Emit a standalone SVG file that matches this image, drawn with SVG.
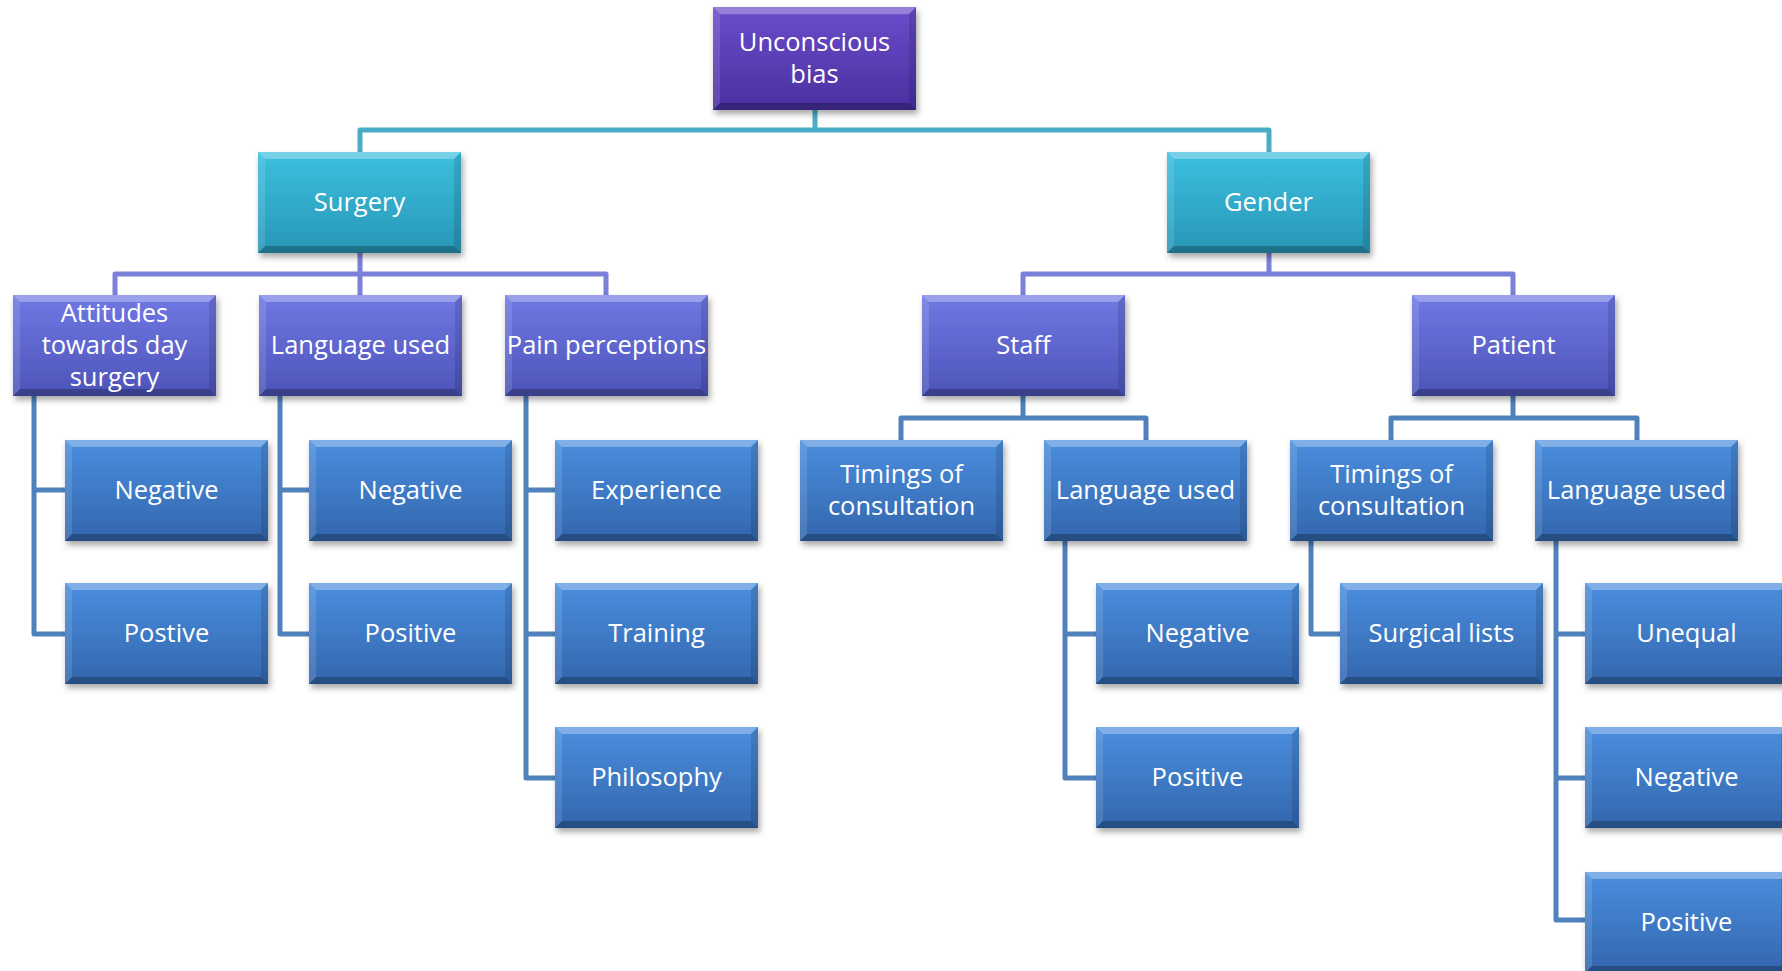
<svg xmlns="http://www.w3.org/2000/svg" xmlns:xlink="http://www.w3.org/1999/xlink" width="1782" height="971" viewBox="0 0 1782 971">
<style>
  .lbl { font-family: "Open Sans", "Liberation Sans", sans-serif; font-size: 25.5px; fill: #ffffff; text-anchor: middle; }
  .c0 { fill: none; stroke: #4bacc6; stroke-width: 5; stroke-linejoin: round; }
  .c1 { fill: none; stroke: #7b80d8; stroke-width: 5; stroke-linejoin: round; }
  .c2 { fill: none; stroke: #4f81bd; stroke-width: 5; stroke-linejoin: round; }
  .box { filter: url(#sh); }
</style>
<defs>
  <linearGradient id="gRoot" x1="0" y1="0" x2="0" y2="1">
    <stop offset="0" stop-color="#6a4ccb"/>
    <stop offset="1" stop-color="#4a30a0"/>
  </linearGradient>
  <linearGradient id="gTeal" x1="0" y1="0" x2="0" y2="1">
    <stop offset="0" stop-color="#3cc0e0"/>
    <stop offset="1" stop-color="#2896b6"/>
  </linearGradient>
  <linearGradient id="gPeri" x1="0" y1="0" x2="0" y2="1">
    <stop offset="0" stop-color="#7078e4"/>
    <stop offset="1" stop-color="#4d54b8"/>
  </linearGradient>
  <linearGradient id="gBlue" x1="0" y1="0" x2="0" y2="1">
    <stop offset="0" stop-color="#4a8ede"/>
    <stop offset="1" stop-color="#3366ad"/>
  </linearGradient>
  <filter id="sh" x="-10%" y="-10%" width="125%" height="135%">
    <feDropShadow dx="2" dy="4" stdDeviation="3" flood-color="#000" flood-opacity="0.35"/>
  </filter>
  <g id="bev">
    <polygon points="0,0 203,0 196,7 7,7" fill="#fff" fill-opacity="0.3"/>
    <polygon points="0,0 7,7 7,94 0,101" fill="#fff" fill-opacity="0.12"/>
    <polygon points="203,0 203,101 196,94 196,7" fill="#000" fill-opacity="0.12"/>
    <polygon points="0,101 7,94 196,94 203,101" fill="#000" fill-opacity="0.25"/>
  </g>
</defs>
<rect width="1782" height="971" fill="#ffffff"/>

<g id="connectors">
  <path class="c0" d="M815,110 V130 M360,152 V130 H1269 V152"/>
  <path class="c1" d="M360,253 V274 M115,295 V274 H606 V295 M360,274 V295"/>
  <path class="c1" d="M1269,253 V274 M1023,295 V274 H1513 V295"/>
  <path class="c2" d="M1023,396 V418 M901,440 V418 H1146 V440"/>
  <path class="c2" d="M1513,396 V418 M1391,440 V418 H1637 V440"/>
  <path class="c2" d="M34,396 V634 H65 M34,490 H65"/>
  <path class="c2" d="M280,396 V634 H309 M280,490 H309"/>
  <path class="c2" d="M526,396 V778 H555 M526,490 H555 M526,634 H555"/>
  <path class="c2" d="M1065,541 V778 H1096 M1065,634 H1096"/>
  <path class="c2" d="M1311,541 V634 H1340"/>
  <path class="c2" d="M1556,541 V920 H1585 M1556,634 H1585 M1556,778 H1585"/>
</g>

<g id="n-root" transform="translate(713,7)">
  <rect class="box" width="203" height="103" fill="url(#gRoot)"/>
  <use xlink:href="#bev" transform="scale(1,1.02)"/>
  <text class="lbl" x="101.5" y="43.5">Unconscious</text>
  <text class="lbl" x="101.5" y="75.5">bias</text>
</g>

<g id="n-surgery" transform="translate(258,152)">
  <rect class="box" width="203" height="101" fill="url(#gTeal)"/>
  <use xlink:href="#bev"/>
  <text class="lbl" x="101.5" y="58.5">Surgery</text>
</g>
<g id="n-gender" transform="translate(1167,152)">
  <rect class="box" width="203" height="101" fill="url(#gTeal)"/>
  <use xlink:href="#bev"/>
  <text class="lbl" x="101.5" y="58.5">Gender</text>
</g>

<g id="n-attitudes" transform="translate(13,295)">
  <rect class="box" width="203" height="101" fill="url(#gPeri)"/>
  <use xlink:href="#bev"/>
  <text class="lbl" x="101.5" y="26.5">Attitudes</text>
  <text class="lbl" x="101.5" y="58.5">towards day</text>
  <text class="lbl" x="101.5" y="90.5">surgery</text>
</g>
<g id="n-lang-s" transform="translate(259,295)">
  <rect class="box" width="203" height="101" fill="url(#gPeri)"/>
  <use xlink:href="#bev"/>
  <text class="lbl" x="101.5" y="58.5">Language used</text>
</g>
<g id="n-pain" transform="translate(505,295)">
  <rect class="box" width="203" height="101" fill="url(#gPeri)"/>
  <use xlink:href="#bev"/>
  <text class="lbl" x="101.5" y="58.5">Pain perceptions</text>
</g>
<g id="n-staff" transform="translate(922,295)">
  <rect class="box" width="203" height="101" fill="url(#gPeri)"/>
  <use xlink:href="#bev"/>
  <text class="lbl" x="101.5" y="58.5">Staff</text>
</g>
<g id="n-patient" transform="translate(1412,295)">
  <rect class="box" width="203" height="101" fill="url(#gPeri)"/>
  <use xlink:href="#bev"/>
  <text class="lbl" x="101.5" y="58.5">Patient</text>
</g>

<g id="n-att-neg" transform="translate(65,440)">
  <rect class="box" width="203" height="101" fill="url(#gBlue)"/>
  <use xlink:href="#bev"/>
  <text class="lbl" x="101.5" y="58.5">Negative</text>
</g>
<g id="n-att-pos" transform="translate(65,583)">
  <rect class="box" width="203" height="101" fill="url(#gBlue)"/>
  <use xlink:href="#bev"/>
  <text class="lbl" x="101.5" y="58.5">Postive</text>
</g>
<g id="n-lang-neg" transform="translate(309,440)">
  <rect class="box" width="203" height="101" fill="url(#gBlue)"/>
  <use xlink:href="#bev"/>
  <text class="lbl" x="101.5" y="58.5">Negative</text>
</g>
<g id="n-lang-pos" transform="translate(309,583)">
  <rect class="box" width="203" height="101" fill="url(#gBlue)"/>
  <use xlink:href="#bev"/>
  <text class="lbl" x="101.5" y="58.5">Positive</text>
</g>
<g id="n-experience" transform="translate(555,440)">
  <rect class="box" width="203" height="101" fill="url(#gBlue)"/>
  <use xlink:href="#bev"/>
  <text class="lbl" x="101.5" y="58.5">Experience</text>
</g>
<g id="n-training" transform="translate(555,583)">
  <rect class="box" width="203" height="101" fill="url(#gBlue)"/>
  <use xlink:href="#bev"/>
  <text class="lbl" x="101.5" y="58.5">Training</text>
</g>
<g id="n-philosophy" transform="translate(555,727)">
  <rect class="box" width="203" height="101" fill="url(#gBlue)"/>
  <use xlink:href="#bev"/>
  <text class="lbl" x="101.5" y="58.5">Philosophy</text>
</g>

<g id="n-staff-timings" transform="translate(800,440)">
  <rect class="box" width="203" height="101" fill="url(#gBlue)"/>
  <use xlink:href="#bev"/>
  <text class="lbl" x="101.5" y="42.5">Timings of</text>
  <text class="lbl" x="101.5" y="74.5">consultation</text>
</g>
<g id="n-staff-lang" transform="translate(1044,440)">
  <rect class="box" width="203" height="101" fill="url(#gBlue)"/>
  <use xlink:href="#bev"/>
  <text class="lbl" x="101.5" y="58.5">Language used</text>
</g>
<g id="n-staff-neg" transform="translate(1096,583)">
  <rect class="box" width="203" height="101" fill="url(#gBlue)"/>
  <use xlink:href="#bev"/>
  <text class="lbl" x="101.5" y="58.5">Negative</text>
</g>
<g id="n-staff-pos" transform="translate(1096,727)">
  <rect class="box" width="203" height="101" fill="url(#gBlue)"/>
  <use xlink:href="#bev"/>
  <text class="lbl" x="101.5" y="58.5">Positive</text>
</g>

<g id="n-pat-timings" transform="translate(1290,440)">
  <rect class="box" width="203" height="101" fill="url(#gBlue)"/>
  <use xlink:href="#bev"/>
  <text class="lbl" x="101.5" y="42.5">Timings of</text>
  <text class="lbl" x="101.5" y="74.5">consultation</text>
</g>
<g id="n-surgical-lists" transform="translate(1340,583)">
  <rect class="box" width="203" height="101" fill="url(#gBlue)"/>
  <use xlink:href="#bev"/>
  <text class="lbl" x="101.5" y="58.5">Surgical lists</text>
</g>
<g id="n-pat-lang" transform="translate(1535,440)">
  <rect class="box" width="203" height="101" fill="url(#gBlue)"/>
  <use xlink:href="#bev"/>
  <text class="lbl" x="101.5" y="58.5">Language used</text>
</g>
<g id="n-unequal" transform="translate(1585,583)">
  <rect class="box" width="203" height="101" fill="url(#gBlue)"/>
  <use xlink:href="#bev"/>
  <text class="lbl" x="101.5" y="58.5">Unequal</text>
</g>
<g id="n-pat-neg" transform="translate(1585,727)">
  <rect class="box" width="203" height="101" fill="url(#gBlue)"/>
  <use xlink:href="#bev"/>
  <text class="lbl" x="101.5" y="58.5">Negative</text>
</g>
<g id="n-pat-pos" transform="translate(1585,872)">
  <rect class="box" width="203" height="101" fill="url(#gBlue)"/>
  <use xlink:href="#bev"/>
  <text class="lbl" x="101.5" y="58.5">Positive</text>
</g>
</svg>
